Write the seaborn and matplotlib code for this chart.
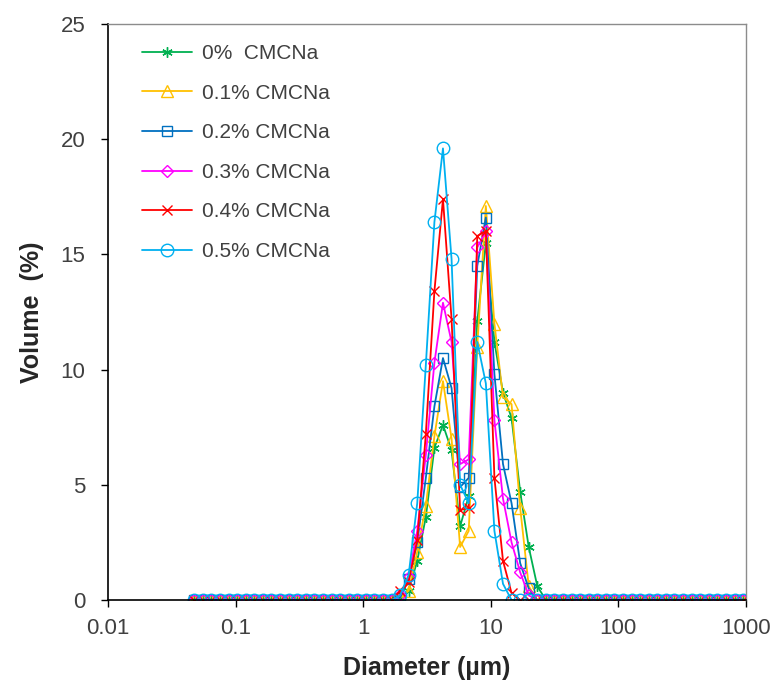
import matplotlib
matplotlib.use("Agg")
import matplotlib.pyplot as plt
import seaborn as sns
import pandas as pd
from matplotlib.ticker import FixedLocator, FixedFormatter, NullLocator

# Particle-size grid (µm), geometric channels
diameter = [0.0475, 0.05545, 0.06473, 0.07556, 0.08821, 0.1030, 0.1202, 0.1403,
            0.1638, 0.1912, 0.2232, 0.2606, 0.3042, 0.3550, 0.4145, 0.4838,
            0.5648, 0.6593, 0.7697, 0.8984, 1.049, 1.225, 1.429, 1.668,
            1.948, 2.273, 2.653, 3.098, 3.616, 4.221, 4.928, 5.752,
            6.715, 7.838, 9.150, 10.68, 12.47, 14.55, 17.00, 19.84,
            23.15, 27.03, 31.56, 36.83, 43.00, 50.20, 58.60, 68.40,
            79.85, 93.21, 108.8, 127.0, 148.3, 173.1, 202.1, 235.9,
            275.3, 321.4, 375.3, 438.0, 511.3, 596.9, 696.8, 813.4, 949.5]

labels = ["0%  CMCNa", "0.1% CMCNa", "0.2% CMCNa", "0.3% CMCNa", "0.4% CMCNa", "0.5% CMCNa"]

# Volume (%) per channel; zeros outside the peak region
vol_0 = [0] * 23 + [0, 0.1, 0.4, 1.7, 3.6, 6.6, 7.6, 6.5, 3.2, 4.5, 12.1, 15.5, 11.2, 9.0, 7.9, 4.7, 2.3, 0.6, 0] + [0] * 23
vol_01 = [0] * 23 + [0, 0.1, 0.4, 2.1, 4.1, 7.1, 9.5, 7.0, 2.3, 3.0, 11.0, 17.1, 12.0, 8.8, 8.5, 4.0, 0.6, 0, 0] + [0] * 23
vol_02 = [0] * 23 + [0, 0.1, 0.9, 2.5, 5.3, 8.4, 10.5, 9.2, 4.9, 5.3, 14.5, 16.6, 9.8, 5.9, 4.2, 1.6, 0.5, 0, 0] + [0] * 23
vol_03 = [0] * 23 + [0, 0.2, 1.0, 3.0, 6.3, 10.3, 12.9, 11.2, 5.9, 6.1, 15.3, 16.0, 7.8, 4.4, 2.5, 1.2, 0.2, 0, 0] + [0] * 23
vol_04 = [0] * 23 + [0, 0.4, 0.8, 2.6, 7.2, 13.4, 17.4, 12.2, 3.9, 4.0, 15.8, 16.0, 5.3, 1.7, 0.3, 0, 0, 0, 0] + [0] * 23
vol_05 = [0] * 23 + [0, 0.2, 1.1, 4.2, 10.2, 16.4, 19.6, 14.8, 5.0, 4.2, 11.2, 9.4, 3.0, 0.7, 0, 0, 0, 0, 0] + [0] * 23

series = [vol_0, vol_01, vol_02, vol_03, vol_04, vol_05]
colors = ["#00B050", "#FFC000", "#0070C0", "#FF00FF", "#FF0000", "#00B0F0"]
markers = [(6, 2, 0), "^", "s", "D", "x", "o"]
msizes = [7.5, 8, 6.5, 6, 7.5, 9]

x_ticks = [0.01, 0.1, 1, 10, 100, 1000]
x_ticklabels = ["0.01", "0.1", "1", "10", "100", "1000"]
y_ticks = [0, 5, 10, 15, 20, 25]

sns.set_style("white")
plt.rcParams["font.family"] = ["Liberation Sans", "DejaVu Sans"]

fig = plt.figure(figsize=(7.79, 6.95), dpi=100)
ax = fig.add_axes([0.1386, 0.1367, 0.819, 0.8288])

for lab, vals, c, m, ms in zip(labels, series, colors, markers, msizes):
    df = pd.DataFrame({"Diameter": diameter, "Volume": vals})
    sns.lineplot(data=df, x="Diameter", y="Volume", ax=ax, color=c, marker=m,
                 markersize=ms, markerfacecolor="none", markeredgecolor=c,
                 markeredgewidth=1.0, linewidth=1.3, label=lab, sort=False,
                 estimator=None, clip_on=True)

ax.set_xscale("log")
ax.set_xlim(0.01, 1000)
ax.set_ylim(0, 25)
ax.xaxis.set_major_locator(FixedLocator(x_ticks))
ax.xaxis.set_major_formatter(FixedFormatter(x_ticklabels))
ax.xaxis.set_minor_locator(NullLocator())
ax.set_yticks(y_ticks)
ax.tick_params(axis="both", which="major", direction="out", length=5.2, width=1.0,
               color="black", labelsize=16, labelcolor="#404040",
               bottom=True, left=True)
ax.tick_params(axis="y", pad=11)
ax.tick_params(axis="x", pad=8)

for side in ["left", "bottom"]:
    ax.spines[side].set_color("black")
    ax.spines[side].set_linewidth(1.2)
for side in ["top", "right"]:
    ax.spines[side].set_color("#8c8c8c")
    ax.spines[side].set_linewidth(1.0)

ax.set_xlabel("Diameter (µm)", fontsize=18, fontweight="bold", labelpad=12)
ax.set_ylabel("Volume  (%)", fontsize=18, fontweight="bold", labelpad=12)

leg = ax.legend(loc="upper left", bbox_to_anchor=(0.034, 0.987), frameon=False,
                fontsize=15, handlelength=2.4, handletextpad=0.48,
                labelspacing=0.99, borderaxespad=0.2)
for t in leg.get_texts():
    t.set_color("#404040")

fig.savefig("out.png", dpi=100)
